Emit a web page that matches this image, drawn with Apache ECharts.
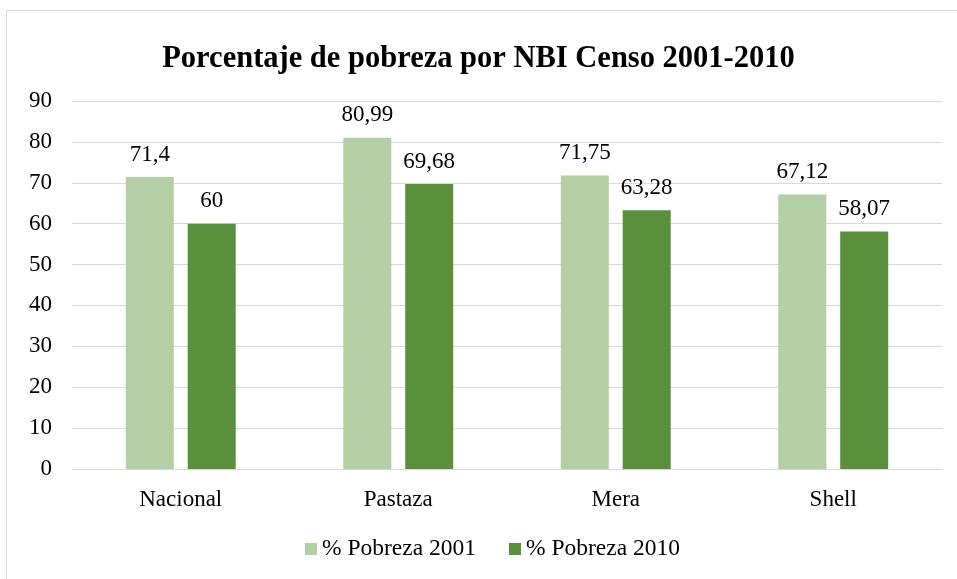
<!DOCTYPE html>
<html>
<head>
<meta charset="utf-8">
<script src="https://cdn.jsdelivr.net/npm/echarts@6/dist/echarts.min.js"></script>
<style>
  html, body { margin: 0; padding: 0; background: #fff; }
  #chart { width: 957px; height: 579px; }
</style>
</head>
<body>
<div id="chart"></div>
<script>
  const categories = ['Nacional', 'Pastaza', 'Mera', 'Shell'];
  const pobreza2001 = [71.4, 80.99, 71.75, 67.12];
  const pobreza2010 = [60, 69.68, 63.28, 58.07];
  const seriesNames = ['% Pobreza 2001', '% Pobreza 2010'];

  const serif = '"Liberation Serif", "Times New Roman", serif';
  const fmt = p => String(p.value).replace('.', ',');

  const chart = echarts.init(document.getElementById('chart'));
  chart.setOption({
    animation: false,
    graphic: [{
      type: 'rect',
      shape: { x: 6.5, y: 10.5, width: 960, height: 580 },
      style: { fill: 'none', stroke: '#d9d9d9', lineWidth: 1 }
    }],
    title: {
      text: 'Porcentaje de pobreza por NBI Censo 2001-2010',
      left: 'center',
      top: 39,
      textStyle: { fontFamily: serif, fontSize: 30.5, fontWeight: 'bold', color: '#000' }
    },
    legend: {
      bottom: 13,
      left: 300,
      itemWidth: 12,
      itemHeight: 12,
      itemGap: 33,
      icon: 'rect',
      textStyle: { fontFamily: serif, fontSize: 23.5, color: '#000' },
      data: seriesNames
    },
    grid: { left: 72, right: 15, top: 101, bottom: 110 },
    xAxis: {
      type: 'category',
      data: categories,
      axisLine: { lineStyle: { color: '#d9d9d9' } },
      axisTick: { show: false },
      axisLabel: { fontFamily: serif, fontSize: 23, color: '#000', margin: 19 }
    },
    yAxis: {
      type: 'value',
      min: 0,
      max: 90,
      interval: 10,
      axisLine: { show: false },
      axisTick: { show: false },
      splitLine: { lineStyle: { color: '#d9d9d9', width: 1 } },
      axisLabel: { fontFamily: serif, fontSize: 23, color: '#000', margin: 20 }
    },
    series: [
      {
        name: seriesNames[0],
        type: 'bar',
        data: pobreza2001,
        barWidth: 48,
        barGap: '29%',
        itemStyle: { color: '#b4cea6' },
        label: { show: true, position: 'top', distance: 11, formatter: fmt,
          fontFamily: serif, fontSize: 23, color: '#000' }
      },
      {
        name: seriesNames[1],
        type: 'bar',
        data: pobreza2010,
        barWidth: 48,
        itemStyle: { color: '#5a8f3b' },
        label: { show: true, position: 'top', distance: 11, formatter: fmt,
          fontFamily: serif, fontSize: 23, color: '#000' }
      }
    ]
  });
</script>
</body>
</html>
